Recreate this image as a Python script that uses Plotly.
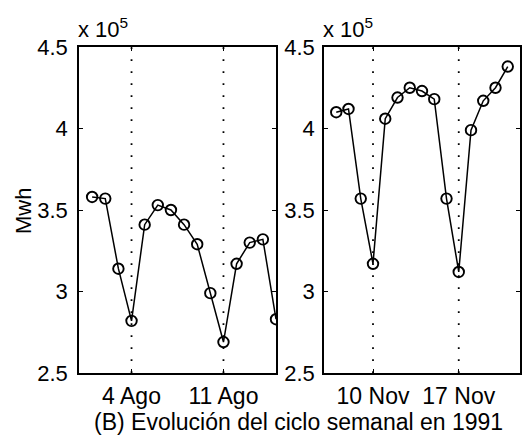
import plotly.graph_objects as go

# Data (x 10^5 Mwh)
ago_dates = ["1991-08-%02d" % d for d in range(1, 16)]
ago_vals = [3.58, 3.57, 3.14, 2.82, 3.41, 3.53, 3.50, 3.41, 3.29, 2.99, 2.69, 3.17, 3.30, 3.32, 2.83]
nov_dates = ["1991-11-%02d" % d for d in range(7, 22)]
nov_vals = [4.10, 4.12, 3.57, 3.17, 4.06, 4.19, 4.25, 4.23, 4.18, 3.57, 3.12, 3.99, 4.17, 4.25, 4.38]

ago_ticks = ["1991-08-04", "1991-08-11"]
ago_ticktext = ["4 Ago", "11 Ago"]
nov_ticks = ["1991-11-10", "1991-11-17"]
nov_ticktext = ["10 Nov", "17 Nov"]
yticks = [2.5, 3, 3.5, 4, 4.5]
ytext = ["2.5", "3", "3.5", "4", "4.5"]

FONT = "Liberation Sans, Arial, sans-serif"
FS = 22
FSX = 23

fig = go.Figure()
marker = dict(symbol="circle-open", size=10.5, color="black", line=dict(width=1.9, color="black"))
fig.add_trace(go.Scatter(x=ago_dates, y=ago_vals, mode="lines+markers", xaxis="x", yaxis="y",
                         line=dict(color="black", width=1.5), marker=marker, showlegend=False))
fig.add_trace(go.Scatter(x=nov_dates, y=nov_vals, mode="lines+markers", xaxis="x2", yaxis="y2",
                         line=dict(color="black", width=1.5), marker=marker, showlegend=False))

shapes = []
dot = dict(color="black", width=1.8, dash="1.8px,10.2px")
for t in ago_ticks:
    shapes.append(dict(type="line", xref="x", yref="y domain", x0=t, x1=t, y0=0, y1=1,
                       line=dot, layer="below"))
for t in nov_ticks:
    shapes.append(dict(type="line", xref="x2", yref="y2 domain", x0=t, x1=t, y0=0, y1=1,
                       line=dot, layer="below"))

ax_common = dict(showline=True, linecolor="black", linewidth=1.5, mirror="allticks",
                 ticks="inside", ticklen=4, tickcolor="black", tickwidth=1.3, showgrid=False, zeroline=False,
                 automargin=False)
yfont = dict(tickfont=dict(family=FONT, size=FS, color="black"))
xfont = dict(tickfont=dict(family=FONT, size=FSX, color="black"))

ydom = [1 - 373 / 439, 1 - 47 / 439]
fig.update_layout(
    template="none",
    width=523, height=439, margin=dict(l=0, r=0, t=0, b=0, autoexpand=False),
    paper_bgcolor="white", plot_bgcolor="white",
    xaxis=dict(domain=[79 / 523, 276 / 523], type="date", range=["1991-07-31", "1991-08-15"],
               tickvals=ago_ticks, ticktext=ago_ticktext, anchor="y", ticklabelstandoff=2, **ax_common, **xfont),
    yaxis=dict(domain=ydom, range=[2.5, 4.5], tickvals=yticks, ticktext=ytext, anchor="x",
               ticklabelstandoff=5, **ax_common, **yfont),
    xaxis2=dict(domain=[324 / 523, 520 / 523], type="date", range=["1991-11-06", "1991-11-22"],
                tickvals=nov_ticks, ticktext=nov_ticktext, anchor="y2", ticklabelstandoff=2, **ax_common, **xfont),
    yaxis2=dict(domain=ydom, range=[2.5, 4.5], tickvals=yticks, ticktext=ytext, anchor="x2",
                ticklabelstandoff=3, **ax_common, **yfont),
    shapes=shapes,
    annotations=[
        dict(text="x 10<sup>5</sup>", xref="paper", yref="paper", x=76 / 523, y=1 - 44 / 439,
             xanchor="left", yanchor="bottom", showarrow=False, font=dict(family=FONT, size=FS, color="black")),
        dict(text="x 10<sup>5</sup>", xref="paper", yref="paper", x=321 / 523, y=1 - 44 / 439,
             xanchor="left", yanchor="bottom", showarrow=False, font=dict(family=FONT, size=FS, color="black")),
        dict(text="Mwh", xref="paper", yref="paper", x=23 / 523, y=1 - 211 / 439, textangle=-90,
             xanchor="center", yanchor="middle", showarrow=False, font=dict(family=FONT, size=FS, color="black")),
        dict(text="(B) Evolución del ciclo semanal en 1991", xref="paper", yref="paper",
             x=298 / 523, y=1 - 422 / 439, xanchor="center", yanchor="middle", showarrow=False,
             font=dict(family=FONT, size=FSX, color="black")),
    ],
)

fig.write_html("out.html")
